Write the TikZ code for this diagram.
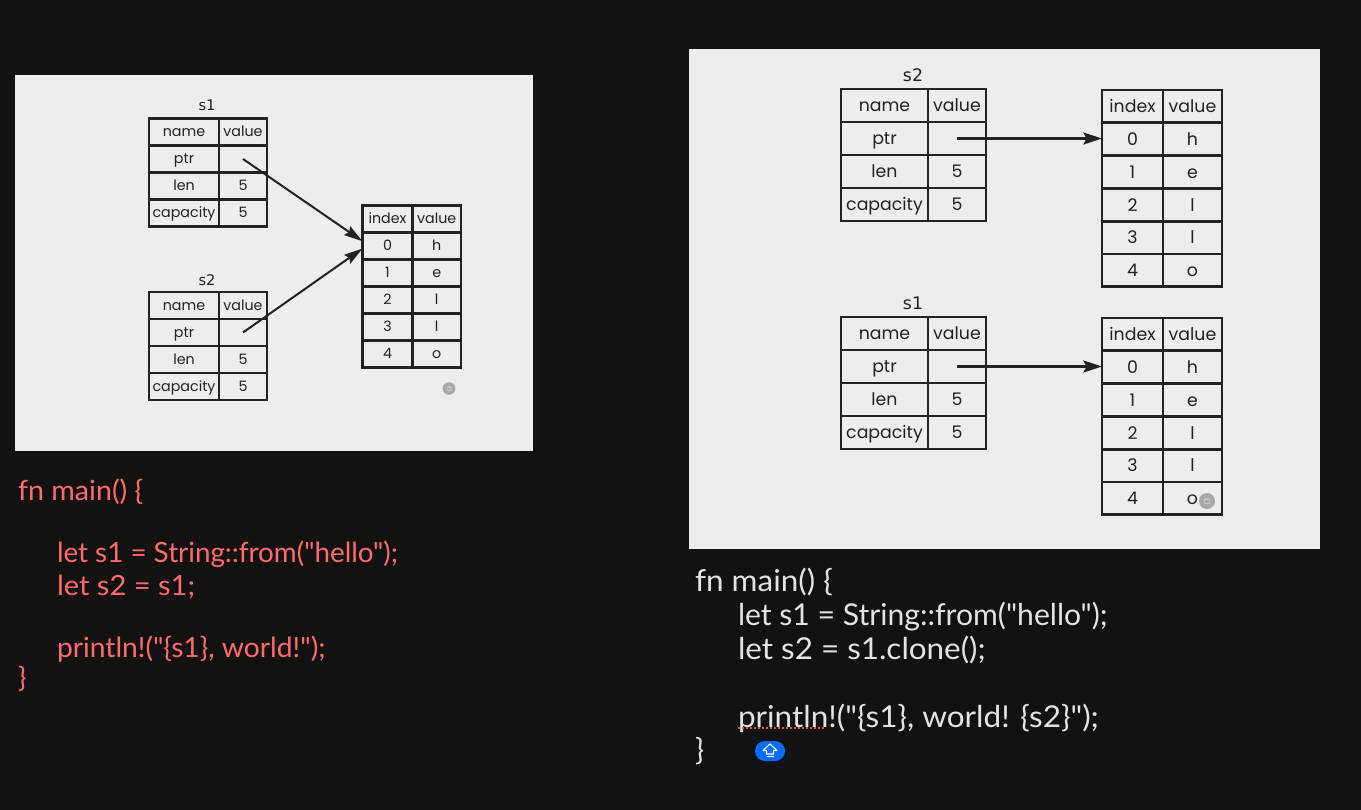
\documentclass[tikz,border=0pt]{standalone}
\usepackage{fontspec}
\usetikzlibrary{arrows.meta}
\setmainfont{Poppins}
\newfontfamily\codefont{Lato}
\newfontfamily\labelfont{DejaVu Sans}
\definecolor{pagebg}{HTML}{121212}
\definecolor{panelbg}{HTML}{EDEDED}
\definecolor{inkc}{HTML}{222222}
\definecolor{codered}{HTML}{FF6B6B}
\definecolor{codewhite}{HTML}{E3E3E3}
\definecolor{btnblue}{HTML}{0A6CFF}
\definecolor{dotgrey}{HTML}{A8A8A8}
\definecolor{dotmark}{HTML}{C8C8C8}
\definecolor{squig}{HTML}{D9534F}
\tikzset{
  cellbox/.style={draw=inkc,rectangle,inner sep=0pt,outer sep=0pt,anchor=north west,text=inkc,align=center,text depth=0.05em},
  codeline/.style={anchor=base west,inner sep=0pt,outer sep=0pt},
  ptrsmall/.style={draw=inkc,line width=1.5pt,-{Stealth[length=14pt,width=8pt,inset=2pt]}},
  ptrlarge/.style={draw=inkc,line width=1.9pt,-{Stealth[length=14pt,width=9pt,inset=2.5pt]}},
  panel/.style={fill=panelbg,draw=none},
}
\newcommand\sx[2]{\scalebox{#1}[1]{#2}}
% cell: name, x, y, w, h, text
\newcommand\tcell[6]{\node[cellbox,minimum width=#4*0.75pt,minimum height=#5*0.75pt] (#1) at (#2,#3) {#6};}
% struct table: prefix, x0, x1, x2, y0, rowh, fontpx
\newcommand\structtbl[7]{%
  \pgfmathsetmacro\wa{#3-#2}\pgfmathsetmacro\wb{#4-#3}%
  \begin{scope}[font=\fontsize{#7}{#7}\selectfont,line width=#6*0.06pt]
  \foreach \lab/\val [count=\i from 0] in {name/value,ptr/{},len/5,capacity/5}{
    \pgfmathsetmacro\yy{#5+\i*#6}
    \tcell{#1-\i-k}{#2}{\yy}{\wa}{#6}{\lab}
    \tcell{#1-\i-v}{#3}{\yy}{\wb}{#6}{\val}
  }
  \end{scope}}
% heap table: prefix, x0, x1, x2, y0, rowh, fontpx
\newcommand\heaptbl[7]{%
  \pgfmathsetmacro\wa{#3-#2}\pgfmathsetmacro\wb{#4-#3}%
  \begin{scope}[font=\fontsize{#7}{#7}\selectfont,line width=#6*0.06pt]
  \foreach \lab/\val [count=\i from 0] in {index/value,0/h,1/e,2/l,3/l,4/o}{
    \pgfmathsetmacro\yy{#5+\i*#6}
    \tcell{#1-\i-k}{#2}{\yy}{\wa}{#6}{\lab}
    \tcell{#1-\i-v}{#3}{\yy}{\wb}{#6}{\val}
  }
  \end{scope}}
% faint icon inside the grey dots: x, y, r
\newcommand\dotglyph[3]{%
  \draw[dotmark,line width=0.5pt] (#1-#3*0.5,#2-#3*0.3) -- (#1+#3*0.5,#2-#3*0.3);
  \draw[dotmark,line width=0.5pt] (#1-#3*0.5,#2+#3*0.3) -- (#1+#3*0.5,#2+#3*0.3);
  \draw[dotmark,line width=0.5pt] (#1,#2) circle[radius=#3*0.45];}
\begin{document}
\begin{tikzpicture}[x=0.75pt,y=-0.75pt,line width=1.3pt]
\useasboundingbox (0,0) rectangle (1361,810);
\fill[pagebg] (0,0) rectangle (1361,810);
\fill[panel] (15,75) rectangle (533,451);
\fill[panel] (689,49) rectangle (1320,549);
% left panel
\node[text=inkc,font=\labelfont\fontsize{11}{11}\selectfont] (lblA) at (207,105.5) {s1};
\node[text=inkc,font=\labelfont\fontsize{11}{11}\selectfont] (lblB) at (207,280) {s2};
\begin{scope}[cellbox/.append style={text height=0.74em}]
\structtbl{a}{149}{219}{267}{118.5}{27}{10.7}
\structtbl{b}{149}{219}{267}{292}{27}{10.7}
\heaptbl{h}{362.5}{412.5}{461}{205.5}{27}{10.7}
\end{scope}
\draw[ptrsmall] (a-1-v.center) -- ([yshift=3.6pt]h-1-k.west);
\draw[ptrsmall] (b-1-v.center) -- ([yshift=-1.9pt]h-1-k.west);
\node[circle,fill=dotgrey,minimum size=9.5pt,inner sep=0pt] (dotA) at (449,388.5) {};
\dotglyph{449}{388.5}{5}
% right panel
\node[text=inkc,font=\labelfont\fontsize{13}{13}\selectfont] (lblC) at (913,75) {s2};
\node[text=inkc,font=\labelfont\fontsize{13}{13}\selectfont] (lblD) at (913,303) {s1};
\begin{scope}[cellbox/.append style={text height=0.98em}]
\structtbl{c}{841}{928}{986}{89}{33}{13}
\structtbl{d}{841}{928}{986}{317}{33}{13}
\heaptbl{p}{1102}{1163}{1222}{90}{32.8}{13}
\heaptbl{q}{1102}{1163}{1222}{318}{32.8}{13}
\end{scope}
\draw[ptrlarge] (c-1-v.center) -- (c-1-v.center -| p-1-k.west);
\draw[ptrlarge] (d-1-v.center) -- (d-1-v.center -| q-1-k.west);
\node[circle,fill=dotgrey,minimum size=12pt,inner sep=0pt] (dotB) at (1207,501) {};
\dotglyph{1207}{501}{6.5}
% left code
\begin{scope}[text=codered,font=\codefont\fontsize{20.85}{21}\selectfont]
\node[codeline] (l1) at (18,500) {\sx{1.03}{fn main() \{}};
\node[codeline] (l2) at (57,562) {let s1 = String::from("hello");};
\node[codeline] (l3) at (57,595) {\sx{1.045}{let s2 = s1;}};
\node[codeline] (l4) at (57,657) {\sx{1.015}{println!("\{s1\}, world!");}};
\node[codeline] (l5) at (18,687) {\}};
\end{scope}
% right code
\begin{scope}[text=codewhite,font=\codefont\fontsize{22.6}{23}\selectfont]
\node[codeline] (r1) at (695,591) {\sx{1.045}{fn main() \{}};
\node[codeline] (r2) at (738,625) {let s1 = String::from("hello");};
\node[codeline] (r3) at (738,659) {\sx{1.042}{let s2 = s1.clone();}};
\node[codeline] (r4) at (738,727) {\sx{1.046}{println!("\{s1\}, world! \{s2\}");}};
\node[codeline] (r5) at (695,760) {\}};
\end{scope}
\coordinate (sqA) at (738,728);
\coordinate (sqB) at (826,728);
\draw[squig,line width=1pt,dash pattern=on 1.5pt off 1.5pt] (sqA) -- (sqB);
\node[fill=btnblue,rounded corners=7.5pt,minimum width=22.5pt,minimum height=15pt,inner sep=0pt] (btn) at (770,751) {};
\draw[white,line width=0.8pt,line join=round] (770,744) -- (777,750.5) -- (773.5,750.5) -- (773.5,754) -- (766.5,754) -- (766.5,750.5) -- (763,750.5) -- cycle;
\draw[white,line width=0.8pt] (766.5,756.5) -- (773.5,756.5);
\end{tikzpicture}
\end{document}
